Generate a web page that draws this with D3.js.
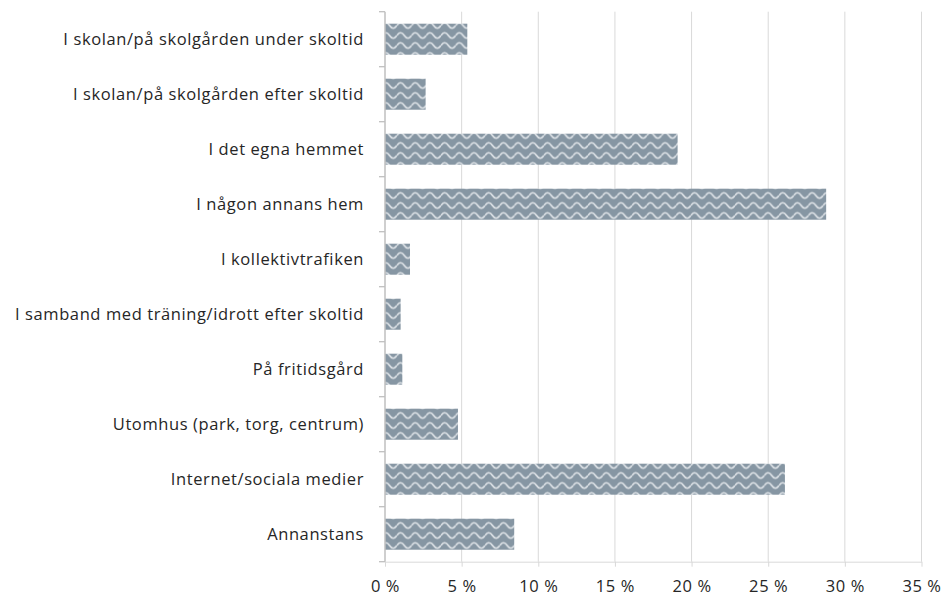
<!DOCTYPE html>
<html>
<head>
<meta charset="utf-8">
<script src="https://cdn.jsdelivr.net/npm/d3@7"></script>
<style>
  html, body { margin: 0; padding: 0; background: #fff; }
  svg { display: block; }
  text { font-family: "Open Sans", Lato, sans-serif; }
</style>
</head>
<body>
<svg id="chart" width="943" height="596"></svg>
<script>
const categories = [
  "I skolan/på skolgården under skoltid",
  "I skolan/på skolgården efter skoltid",
  "I det egna hemmet",
  "I någon annans hem",
  "I kollektivtrafiken",
  "I samband med träning/idrott efter skoltid",
  "På fritidsgård",
  "Utomhus (park, torg, centrum)",
  "Internet/sociala medier",
  "Annanstans"
];
const values = [5.37, 2.65, 19.09, 28.78, 1.63, 1.02, 1.13, 4.76, 26.09, 8.43];
const xTicks = [0, 5, 10, 15, 20, 25, 30, 35];
const xTickLabels = ["0 %", "5 %", "10 %", "15 %", "20 %", "25 %", "30 %", "35 %"];

(function () {
const svg = d3.select("#chart");
const pLeft = 385, pRight = 921.5, pTop = 11.7, pBottom = 561.7;
const fontFam = "'Open Sans', Lato, sans-serif";
const fontSize = 16.5;

const x = d3.scaleLinear().domain([0, 35]).range([pLeft, pRight]);
const y = d3.scaleBand().domain(categories).range([pTop, pBottom])
  .paddingInner(0.436).paddingOuter(0.218);

// wave pattern
const defs = svg.append("defs");
const pw = 14.7, ph = 10;
const pat = defs.append("pattern")
  .attr("id", "wave")
  .attr("patternUnits", "userSpaceOnUse")
  .attr("width", pw).attr("height", ph)
  .attr("patternTransform", "translate(0,1.5)");
pat.append("rect").attr("width", pw).attr("height", ph).attr("fill", "#8696a3");
const wave = `M0,4 Q${pw/4},-1.5 ${pw/2},4 Q${pw*3/4},9.5 ${pw},4`;
[-ph, 0, ph].forEach(off => {
  pat.append("path").attr("d", wave).attr("transform", `translate(0,${off})`)
    .attr("fill", "none").attr("stroke", "#e2e6ea").attr("stroke-width", 1.6);
});

// gridlines
svg.append("g").selectAll("line")
  .data(xTicks.filter(d => d > 0))
  .join("line")
  .attr("x1", d => x(d)).attr("x2", d => x(d))
  .attr("y1", pTop).attr("y2", pBottom)
  .attr("stroke", "#d9d9d9").attr("stroke-width", 1);

// bottom axis line & ticks
const xAxis = d3.axisBottom(x).tickValues(xTicks)
  .tickFormat((d, i) => xTickLabels[i]).tickSizeInner(5).tickSizeOuter(0).tickPadding(14);
const gx = svg.append("g").attr("transform", `translate(0,${pBottom})`).call(xAxis);
gx.select(".domain").attr("stroke", "#d9d9d9").attr("stroke-width", 1);
gx.selectAll(".tick line").attr("stroke", "#d9d9d9");
gx.selectAll(".tick text").attr("fill", "#262626").attr("font-size", fontSize)
  .style("font-family", fontFam).style("letter-spacing", "0.6px");

// bars
svg.append("g").selectAll("rect")
  .data(categories)
  .join("rect")
  .attr("x", x(0))
  .attr("y", d => y(d))
  .attr("width", (d, i) => x(values[i]) - x(0))
  .attr("height", y.bandwidth())
  .attr("fill", "url(#wave)");

// left axis line with ticks between categories
const boundaries = d3.range(categories.length + 1).map(i => pTop + i * y.step());
svg.append("line").attr("x1", pLeft).attr("x2", pLeft).attr("y1", pTop).attr("y2", pBottom)
  .attr("stroke", "#bfbfbf").attr("stroke-width", 1.5);
svg.append("g").selectAll("line").data(boundaries).join("line")
  .attr("x1", pLeft - 6).attr("x2", pLeft)
  .attr("y1", d => d).attr("y2", d => d)
  .attr("stroke", "#bfbfbf").attr("stroke-width", 1.3);

// category labels
svg.append("g").selectAll("text").data(categories).join("text")
  .attr("x", 364)
  .attr("y", d => y(d) + y.bandwidth() / 2)
  .attr("dy", "0.35em")
  .attr("text-anchor", "end")
  .attr("font-size", fontSize)
  .attr("fill", "#262626")
  .style("font-family", fontFam)
  .style("letter-spacing", "0.6px")
  .text(d => d);
})();
</script>
</body>
</html>
